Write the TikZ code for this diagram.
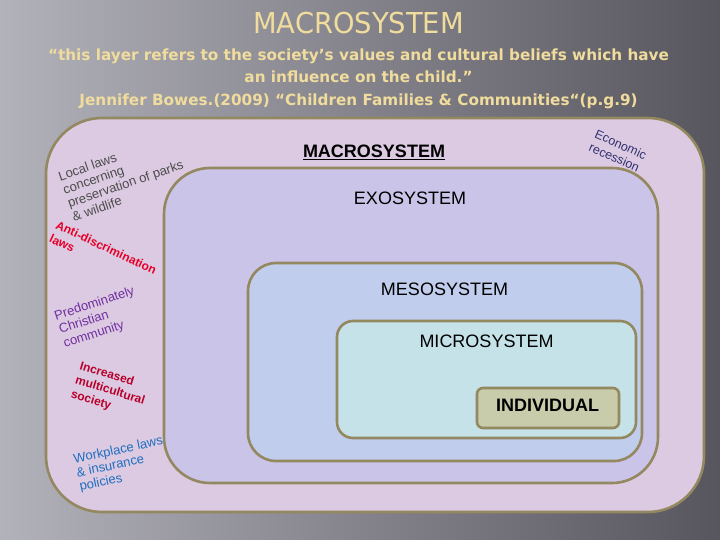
\documentclass[tikz,border=0pt]{standalone}
\usepackage{fontspec}
\setmainfont{Liberation Sans}
\newfontfamily\headfont[FakeStretch=0.95]{DejaVu Sans}
\newfontfamily\quotefont[FakeStretch=0.99]{DejaVu Sans}
\usetikzlibrary{positioning}
\definecolor{bgleft}{HTML}{B2B2BA}
\definecolor{bgmid}{HTML}{74727A}
\definecolor{bgright}{HTML}{57555D}
\definecolor{titlegold}{HTML}{F0DC9C}
\definecolor{rimcol}{HTML}{948860}
\definecolor{macrofill}{HTML}{DCCAE2}
\definecolor{exofill}{HTML}{C9C4E8}
\definecolor{mesofill}{HTML}{C0CDEC}
\definecolor{microfill}{HTML}{C4E2E8}
\definecolor{indivfill}{HTML}{C8CCAA}
\definecolor{lawgray}{HTML}{4D4D4D}
\definecolor{antired}{HTML}{E60028}
\definecolor{faithpurple}{HTML}{7030A0}
\definecolor{multired}{HTML}{B8002A}
\definecolor{workblue}{HTML}{1E6EBE}
\definecolor{econnavy}{HTML}{323270}
\tikzset{
  layerbox/.style={draw=rimcol, line width=2.6pt},
  layername/.style={font=\fontsize{18}{20}\selectfont, text=black,
                    inner sep=0pt, anchor=base},
  influence/.style={align=left, inner sep=0pt, anchor=north west},
}

\begin{document}
\begin{tikzpicture}[x=1pt, y=-1pt]

  %% ── Slide background ──
  \useasboundingbox (0,0) rectangle (720,540);
  \shade[left color=bgleft, middle color=bgmid, right color=bgright]
    (0,0) rectangle (720,540);

  %% ── Heading and quote ──
  \node[font=\headfont\fontsize{28.8}{30}\selectfont, text=titlegold,
        inner sep=0pt, anchor=base] (title) at (358.5,34) {MACROSYSTEM};
  \node[font=\quotefont\bfseries\fontsize{15.4}{22.5}\selectfont, text=titlegold,
        align=center, inner sep=0pt, anchor=north] (quote) at (358.5,48.3)
    {“this layer refers to the society’s values and cultural beliefs which have\\
     an influence on the child.”\\
     Jennifer Bowes.(2009) “Children Families \& Communities“(p.g.9)};

  %% ═══════════ Nested layers ═══════════
  \filldraw[layerbox, fill=macrofill, rounded corners=56pt] (46,118) rectangle (704,512);
  \filldraw[layerbox, fill=exofill, rounded corners=46pt] (164,168) rectangle (658,483);
  \filldraw[layerbox, fill=mesofill, rounded corners=28pt] (248,263) rectangle (642,461);
  \filldraw[layerbox, fill=microfill, rounded corners=16pt] (337,321) rectangle (636,438);
  \filldraw[layerbox, fill=indivfill, rounded corners=6pt] (477,388) rectangle (619,428);

  %% Layer names
  \node[layername, font=\bfseries\fontsize{18}{20}\selectfont] (macro) at (374,157.3)
    {\underline{MACROSYSTEM}};
  \node[layername] (exo) at (410,205) {EXOSYSTEM};
  \node[layername] (meso) at (444.5,295) {MESOSYSTEM};
  \node[layername] (micro) at (486.5,347) {MICROSYSTEM};
  \node[layername, font=\bfseries\fontsize{18}{20}\selectfont] (indiv) at (547.5,411)
    {INDIVIDUAL};

  %% ═══════════ Macro influences (tilted notes) ═══════════
  \node[influence, text=lawgray, font=\fontsize{13}{14.2}\selectfont, rotate=19]
    (parks) at (57,172) {Local laws\\concerning\\preservation of parks\\\& wildlife};
  \node[influence, text=antired, font=\bfseries\fontsize{12}{15}\selectfont, rotate=-25]
    (antidisc) at (58.5,220) {Anti-discrimination\\laws};
  \node[influence, text=faithpurple, font=\fontsize{13}{14.5}\selectfont, rotate=18]
    (faith) at (53,311) {Predominately\\Christian\\community};
  \node[influence, text=multired, font=\bfseries\fontsize{12}{15}\selectfont, rotate=-17]
    (multi) at (81.5,360.5) {Increased\\multicultural\\society};
  \node[influence, text=workblue, font=\fontsize{13}{14}\selectfont, rotate=12]
    (work) at (72.5,454) {Workplace laws\\\& insurance\\policies};
  \node[influence, text=econnavy, font=\fontsize{12.5}{14.2}\selectfont, rotate=-24]
    (econ) at (597.5,129) {Economic\\recession};

\end{tikzpicture}
\end{document}
